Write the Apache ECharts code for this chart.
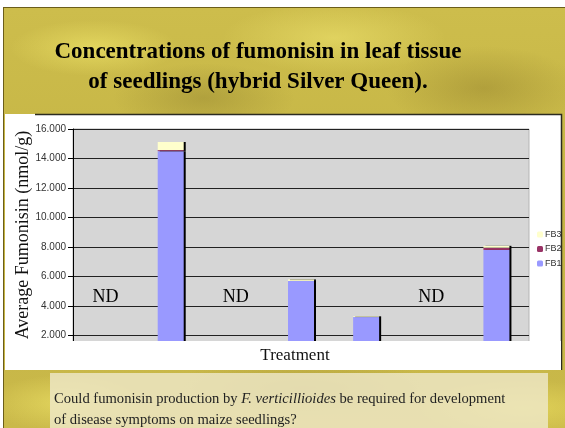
<!DOCTYPE html>
<html>
<head>
<meta charset="utf-8">
<script src="https://cdn.jsdelivr.net/npm/echarts@6/dist/echarts.min.js"></script>
<style>
  html, body { margin: 0; padding: 0; background: #fff; }
  #slide {
    position: absolute; left: 3px; top: 7px; width: 562px; height: 421px;
    border-left: 1px solid #6b5d1a; border-top: 1px solid #6b5d1a;
    box-sizing: border-box;
    background:
      radial-gradient(ellipse 120px 40px at 90px 40px, rgba(245,235,110,0.55), rgba(245,235,110,0) 70%),
      radial-gradient(ellipse 160px 50px at 330px 30px, rgba(248,238,120,0.45), rgba(248,238,120,0) 70%),
      radial-gradient(ellipse 140px 60px at 480px 80px, rgba(120,100,30,0.3), rgba(120,100,30,0) 70%),
      radial-gradient(ellipse 130px 50px at 200px 90px, rgba(120,105,35,0.3), rgba(120,105,35,0) 70%),
      radial-gradient(ellipse 110px 40px at 60px 395px, rgba(248,238,110,0.5), rgba(248,238,110,0) 70%),
      radial-gradient(ellipse 150px 40px at 520px 400px, rgba(245,232,100,0.5), rgba(245,232,100,0) 70%),
      radial-gradient(ellipse 200px 40px at 300px 380px, rgba(130,110,35,0.3), rgba(130,110,35,0) 70%),
      linear-gradient(180deg, #cdbd4c 0%, #c4b444 50%, #cab94a 100%);
  }
  #chart { position: absolute; left: 0; top: 0; width: 565px; height: 428px; }
</style>
</head>
<body>
<div id="slide"></div>
<div id="chart"></div>
<script>
// Treatments (seven seedling treatments, left to right)
const treatments = ['T1', 'T2', 'T3', 'T4', 'T5', 'T6', 'T7'];
// Average fumonisin (nmol/g) by analogue
const fb1 = [0, 14.5, 0, 5.7, 3.25, 0, 7.8];
const fb2 = [0, 0.07, 0, 0, 0, 0, 0.15];
const fb3 = [0, 0.55, 0, 0.1, 0.05, 0, 0.13];
// "Not detected" markers and the height at which the text sits
const ndText = ['ND', '', 'ND', '', '', 'ND', ''];
const ndLevel = [4.6, null, 4.6, null, null, 4.6, null];
// Y axis ticks
const yMin = 0, yMax = 16, yStep = 2;

const serif = '"Liberation Serif", "Times New Roman", serif';
const sans = '"Liberation Sans", Arial, sans-serif';

const chart = echarts.init(document.getElementById('chart'), null, { renderer: 'canvas' });

const barStyle = (color) => ({
  color: color,
  shadowColor: '#000',
  shadowOffsetX: 2,
  shadowOffsetY: 0,
  shadowBlur: 0
});

chart.setOption({
  backgroundColor: 'transparent',
  animation: false,
  title: {
    text: 'Concentrations of fumonisin in leaf tissue\nof seedlings (hybrid Silver Queen).',
    left: 253,
    top: 32,
    textAlign: 'center',
    textStyle: {
      fontFamily: serif, fontWeight: 'bold', fontSize: 23, lineHeight: 30, color: '#000'
    }
  },
  legend: {
    data: ['FB3', 'FB2', 'FB1'],
    orient: 'vertical',
    left: 532,
    top: 225,
    itemWidth: 6,
    itemHeight: 6,
    itemGap: 5.5,
    textStyle: { fontFamily: sans, fontSize: 9, color: '#333', padding: [0, 0, 0, -3] },
    selectedMode: false
  },
  grid: {
    left: 73, right: 36, top: 129, bottom: 63,
    show: true,
    backgroundColor: '#d6d6d6',
    borderColor: '#b5b5b5',
    borderWidth: 1
  },
  xAxis: {
    type: 'category',
    data: treatments,
    axisLine: { show: false },
    axisTick: { show: false },
    axisLabel: { show: false },
    splitLine: { show: false }
  },
  yAxis: {
    type: 'value',
    min: yMin, max: yMax, interval: yStep,
    axisLine: { show: true, lineStyle: { color: '#000', width: 1 } },
    axisTick: { show: true, inside: false, length: 5, lineStyle: { color: '#000' } },
    axisLabel: {
      margin: 7, fontFamily: sans, fontSize: 10, color: '#333',
      formatter: (v) => v.toFixed(3)
    },
    splitLine: { show: true, lineStyle: { color: '#222', width: 1.2 } }
  },
  series: [
    { name: 'FB1', type: 'bar', stack: 'fb', data: fb1, barWidth: 26, itemStyle: barStyle('#9999ff') },
    { name: 'FB2', type: 'bar', stack: 'fb', data: fb2, barWidth: 26, itemStyle: barStyle('#993366') },
    { name: 'FB3', type: 'bar', stack: 'fb', data: fb3, barWidth: 26, itemStyle: barStyle('#ffffcc') },
    {
      name: 'nd', type: 'scatter', data: ndLevel, symbolSize: 0, silent: true,
      itemStyle: { opacity: 1 },
      label: {
        show: true, position: 'inside',
        formatter: (p) => ndText[p.dataIndex],
        fontFamily: serif, fontSize: 18, color: '#000', opacity: 1
      }
    }
  ],
  graphic: [
    // white chart panel behind the plot
    {
      type: 'rect', z: -10, silent: true,
      shape: { x: 5, y: 114, width: 556, height: 256 },
      style: { fill: '#fff' }
    },
    {
      type: 'polyline', z: -9, silent: true,
      shape: { points: [[35, 114.5], [561.5, 114.5], [561.5, 370]] },
      style: { stroke: '#2b2b20', lineWidth: 1.5, fill: null }
    },
    // lower edge of the chart panel
    {
      type: 'rect', z: 100, silent: true,
      shape: { x: 5, y: 341, width: 556, height: 29 },
      style: { fill: '#fff' }
    },
    {
      type: 'text', z: 101, silent: true,
      x: 295, y: 356,
      style: {
        text: 'Treatment', fontFamily: serif, fontSize: 17, fill: '#111',
        align: 'center', verticalAlign: 'middle'
      }
    },
    {
      type: 'text', z: 101, silent: true,
      x: 23, y: 235, rotation: Math.PI / 2,
      style: {
        text: 'Average Fumonisin (nmol/g)', fontFamily: serif, fontSize: 18, fill: '#111',
        align: 'center', verticalAlign: 'middle'
      }
    },
    // question box at the bottom of the slide
    {
      type: 'rect', z: 100, silent: true,
      shape: { x: 50, y: 373, width: 498, height: 60 },
      style: { fill: 'rgba(238,232,200,0.82)' }
    },
    {
      type: 'text', z: 101, silent: true,
      x: 54, y: 389,
      style: {
        text: 'Could fumonisin production by {i|F. verticillioides} be required for development\nof disease symptoms on maize seedlings?',
        fontFamily: serif, fontSize: 14.6, lineHeight: 21, fill: '#222',
        rich: { i: { fontFamily: serif, fontStyle: 'italic', fontSize: 14.6, fill: '#222', lineHeight: 21 } }
      }
    }
  ]
});
</script>
</body>
</html>
